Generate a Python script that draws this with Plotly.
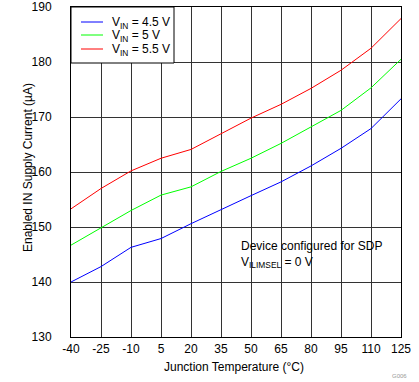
import plotly.graph_objects as go

temps = [-40, -25, -10, 5, 20, 35, 50, 65, 80, 95, 110, 125]
vin_45 = [140.0, 142.8, 146.3, 147.9, 150.6, 153.2, 155.7, 158.2, 161.1, 164.3, 167.9, 173.3]
vin_50 = [146.7, 149.8, 153.0, 155.8, 157.3, 160.1, 162.5, 165.2, 168.2, 171.2, 175.3, 180.5]
vin_55 = [153.3, 157.0, 160.2, 162.5, 164.1, 166.9, 169.8, 172.3, 175.2, 178.5, 182.5, 187.9]
series_names = ["V<sub>IN</sub> = 4.5 V", "V<sub>IN</sub> = 5 V", "V<sub>IN</sub> = 5.5 V"]
series_colors = ["#0000FF", "#00FF00", "#FF0000"]
x_ticks = temps
y_ticks = [130, 140, 150, 160, 170, 180, 190]
x_title = "Junction Temperature (°C)"
y_title = "Enabled IN Supply Current (µA)"

FONT = "Liberation Sans, Arial, sans-serif"
L, R, T, B = 71, 18, 7, 45
W, H = 419, 382
PW, PH = W - L - R, H - T - B


def px_x(p):
    return (p - L) / PW


def px_y(p):
    return (H - B - p) / PH


fig = go.Figure()
for name, vals, col in zip(series_names, [vin_45, vin_50, vin_55], series_colors):
    fig.add_trace(go.Scatter(x=temps, y=vals, mode="lines", name=name,
                             line=dict(color=col, width=1), showlegend=False,
                             hoverinfo="skip"))

shapes = [dict(type="rect", xref="paper", yref="paper",
               x0=0, x1=px_x(174), y0=px_y(63), y1=1,
               fillcolor="white", line=dict(color="black", width=1), layer="above")]
annotations = []
for i, (name, col) in enumerate(zip(series_names, series_colors)):
    ypix = [22, 35, 49][i]
    shapes.append(dict(type="line", xref="paper", yref="paper",
                       x0=px_x(81), x1=px_x(103), y0=px_y(ypix), y1=px_y(ypix),
                       line=dict(color=col, width=1), layer="above"))
    annotations.append(dict(text=name, xref="paper", yref="paper",
                            x=px_x(110), y=px_y(ypix + 1), xanchor="left", yanchor="middle",
                            showarrow=False, font=dict(size=12)))

annotations += [
    dict(text="Device configured for SDP<br>V<sub>ILIMSEL</sub> = 0 V",
         xref="paper", yref="paper", x=px_x(239), y=px_y(237),
         xanchor="left", yanchor="top", align="left", showarrow=False,
         font=dict(size=12)),
    dict(text=x_title, xref="paper", yref="paper", x=px_x(234), y=px_y(367),
         xanchor="center", yanchor="middle", showarrow=False, font=dict(size=12)),
    dict(text=y_title, xref="paper", yref="paper", x=px_x(28), y=px_y(168),
         xanchor="center", yanchor="middle", textangle=-90, showarrow=False,
         font=dict(size=12)),
    dict(text="G006", xref="paper", yref="paper", x=px_x(409), y=px_y(376),
         xanchor="right", yanchor="middle", showarrow=False,
         font=dict(size=6, color="#999999")),
]

fig.update_layout(
    width=W, height=H,
    margin=dict(l=L, r=R, t=T, b=B, autoexpand=False),
    paper_bgcolor="white", plot_bgcolor="white",
    font=dict(family=FONT, size=12, color="black"),
    showlegend=False,
    shapes=shapes,
    annotations=annotations,
    hovermode=False,
)
fig.update_xaxes(range=[-40, 125], tickvals=x_ticks, ticktext=[str(t) for t in x_ticks],
                 showgrid=True, gridcolor="#333333", gridwidth=1,
                 showline=True, linecolor="black", linewidth=1, mirror=True,
                 zeroline=False, ticks="", ticklabelstandoff=1, automargin=False)
fig.update_yaxes(range=[130, 190], tickvals=y_ticks,
                 showgrid=True, gridcolor="#333333", gridwidth=1,
                 showline=True, linecolor="black", linewidth=1, mirror=True,
                 zeroline=False, ticks="", ticklabelstandoff=16, automargin=False)

fig.write_html("out.html", config={"displayModeBar": False, "staticPlot": True},
               post_script="document.body.style.margin='0';document.body.style.overflow='hidden';")
